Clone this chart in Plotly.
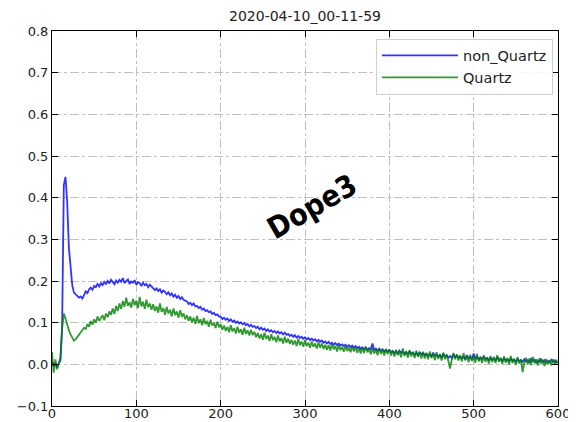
import plotly.graph_objects as go

# sampling positions
x_early = [0, 2, 4, 6, 8, 10, 12, 14, 16, 18, 20, 22, 24, 26, 28, 30, 32, 34, 36, 38]
x_late = list(range(40, 601, 2))
x_vals = x_early + x_late

non_quartz = [
    0.008, -0.005, 0.004, -0.008, 0.002, 0.015, 0.09, 0.43, 0.45, 0.39,
    0.28, 0.23, 0.19, 0.172, 0.168, 0.164, 0.16, 0.163, 0.158, 0.166,
    # 40-78
    0.175, 0.171, 0.18, 0.184, 0.179, 0.188, 0.185, 0.193, 0.187, 0.195,
    0.19, 0.198, 0.193, 0.2, 0.194, 0.203, 0.197, 0.192, 0.201, 0.196,
    # 80-118
    0.203, 0.198, 0.207, 0.195, 0.2, 0.204, 0.193, 0.199, 0.196, 0.202,
    0.191, 0.197, 0.195, 0.188, 0.196, 0.19, 0.193, 0.185, 0.191, 0.187,
    # 120-158
    0.184, 0.178, 0.182, 0.176, 0.18, 0.172, 0.177, 0.174, 0.168, 0.173,
    0.166, 0.17, 0.163, 0.167, 0.16, 0.164, 0.157, 0.161, 0.155, 0.152,
    # 160-198
    0.151, 0.145, 0.148, 0.142, 0.146, 0.139, 0.14, 0.135, 0.138, 0.131,
    0.134, 0.128, 0.13, 0.125, 0.127, 0.121, 0.124, 0.118, 0.12, 0.115,
    # 200-238
    0.114, 0.109, 0.112, 0.107, 0.11, 0.104, 0.108, 0.102, 0.105, 0.1,
    0.103, 0.098, 0.101, 0.096, 0.099, 0.094, 0.097, 0.091, 0.095, 0.09,
    # 240-278
    0.092, 0.087, 0.09, 0.084, 0.088, 0.083, 0.086, 0.08, 0.084, 0.079,
    0.082, 0.077, 0.08, 0.075, 0.079, 0.074, 0.077, 0.072, 0.076, 0.071,
    # 280-318
    0.073, 0.068, 0.071, 0.066, 0.07, 0.064, 0.068, 0.063, 0.066, 0.061,
    0.065, 0.06, 0.063, 0.058, 0.062, 0.057, 0.06, 0.055, 0.059, 0.054,
    # 320-358
    0.057, 0.052, 0.055, 0.05, 0.054, 0.049, 0.052, 0.047, 0.051, 0.046,
    0.05, 0.045, 0.048, 0.044, 0.047, 0.042, 0.046, 0.041, 0.045, 0.04,
    # 360-398
    0.044, 0.039, 0.042, 0.037, 0.041, 0.036, 0.04, 0.035, 0.039, 0.036,
    0.05, 0.034, 0.038, 0.033, 0.037, 0.032, 0.036, 0.031, 0.035, 0.03,
    # 400-438
    0.034, 0.029, 0.032, 0.027, 0.031, 0.026, 0.033, 0.028, 0.03, 0.025,
    0.029, 0.024, 0.031, 0.026, 0.028, 0.023, 0.027, 0.022, 0.029, 0.024,
    # 440-478
    0.027, 0.022, 0.025, 0.02, 0.024, 0.019, 0.028, 0.021, 0.023, 0.018,
    0.022, 0.017, 0.025, 0.019, 0.021, 0.016, 0.02, 0.015, 0.023, 0.017,
    # 480-518
    0.021, 0.016, 0.019, 0.014, 0.018, 0.013, 0.022, 0.015, 0.017, 0.012,
    0.026, 0.014, 0.018, 0.011, 0.016, 0.012, 0.019, 0.013, 0.015, 0.01,
    # 520-558
    0.016, 0.011, 0.014, 0.009, 0.018, 0.01, 0.013, 0.008, 0.015, 0.009,
    0.012, 0.007, 0.014, 0.009, 0.011, 0.006, 0.013, 0.008, 0.01, 0.006,
    # 560-600
    0.012, 0.007, 0.01, 0.005, 0.013, 0.008, 0.011, 0.004, 0.009, 0.006,
    0.012, 0.005, 0.01, 0.004, 0.008, 0.005, 0.011, 0.006, 0.009, 0.004, 0.007,
]

quartz = [
    0.03, -0.02, 0.012, -0.012, 0.002, 0.008, 0.085, 0.122, 0.11, 0.095,
    0.082, 0.072, 0.063, 0.057, 0.06, 0.066, 0.072, 0.079, 0.083, 0.088,
    # 40-78
    0.085, 0.097, 0.09, 0.104, 0.095, 0.108, 0.1, 0.115, 0.104, 0.112,
    0.118, 0.106, 0.122, 0.113, 0.127, 0.119, 0.134, 0.121, 0.14, 0.128,
    # 80-118
    0.146, 0.133, 0.152, 0.138, 0.16, 0.14, 0.149, 0.136, 0.157, 0.142,
    0.153, 0.135, 0.162, 0.139, 0.15, 0.133, 0.155, 0.137, 0.146, 0.131,
    # 120-158
    0.144, 0.128, 0.139, 0.124, 0.146, 0.126, 0.135, 0.119, 0.138, 0.122,
    0.131, 0.115, 0.134, 0.118, 0.127, 0.112, 0.13, 0.114, 0.122, 0.108,
    # 160-198
    0.118, 0.104, 0.115, 0.101, 0.112, 0.097, 0.116, 0.099, 0.108, 0.094,
    0.111, 0.096, 0.104, 0.09, 0.107, 0.093, 0.1, 0.087, 0.102, 0.089,
    # 200-238
    0.096, 0.083, 0.093, 0.08, 0.09, 0.077, 0.094, 0.079, 0.087, 0.074,
    0.09, 0.076, 0.084, 0.071, 0.088, 0.073, 0.082, 0.069, 0.083, 0.07,
    # 240-278
    0.078, 0.065, 0.075, 0.062, 0.072, 0.059, 0.076, 0.061, 0.069, 0.056,
    0.072, 0.058, 0.066, 0.053, 0.069, 0.055, 0.063, 0.05, 0.066, 0.052,
    # 280-318
    0.062, 0.049, 0.059, 0.047, 0.057, 0.044, 0.061, 0.046, 0.055, 0.042,
    0.058, 0.044, 0.052, 0.04, 0.055, 0.042, 0.05, 0.038, 0.053, 0.04,
    # 320-358
    0.05, 0.037, 0.047, 0.035, 0.046, 0.033, 0.049, 0.036, 0.044, 0.031,
    0.047, 0.034, 0.042, 0.03, 0.045, 0.032, 0.04, 0.029, 0.043, 0.031,
    # 360-398
    0.041, 0.028, 0.039, 0.026, 0.04, 0.027, 0.043, 0.029, 0.037, 0.024,
    0.04, 0.026, 0.036, 0.022, 0.039, 0.025, 0.035, 0.021, 0.037, 0.024,
    # 400-438
    0.036, 0.021, 0.033, 0.019, 0.035, 0.022, 0.031, 0.017, 0.038, 0.02,
    0.032, 0.016, 0.034, 0.019, 0.03, 0.015, 0.033, 0.018, 0.029, 0.014,
    # 440-478
    0.03, 0.014, 0.028, 0.012, 0.031, 0.015, 0.026, 0.01, 0.029, 0.013,
    0.025, 0.009, 0.028, 0.012, 0.024, 0.008, -0.01, 0.011, 0.027, 0.012,
    # 480-518
    0.024, 0.009, 0.022, 0.007, 0.027, 0.01, 0.02, 0.005, 0.023, 0.008,
    0.019, 0.004, 0.025, 0.007, 0.018, 0.003, 0.021, 0.006, 0.017, 0.002,
    # 520-558
    0.02, 0.005, 0.018, 0.003, 0.022, 0.006, 0.016, 0.001, 0.019, 0.004,
    0.015, 0.0, 0.02, 0.003, 0.014, -0.001, 0.017, 0.002, 0.012, -0.019,
    # 560-600
    0.004, 0.016, 0.001, 0.014, -0.002, 0.018, 0.003, 0.012, -0.003, 0.015,
    0.002, 0.011, -0.004, 0.013, 0.0, 0.01, -0.002, 0.012, 0.001, 0.009, 0.003,
]

y_ticks = [0.8, 0.7, 0.6, 0.5, 0.4, 0.3, 0.2, 0.1, 0.0, -0.1]
x_ticks = [0, 100, 200, 300, 400, 500, 600]

title_text = "2020-04-10_00-11-59"
watermark = "Dope3"

fig = go.Figure()
fig.add_trace(go.Scatter(x=x_vals, y=non_quartz, mode="lines", name="non_Quartz",
                         legendgroup="a",
                         line=dict(color="rgba(0,0,255,0.8)", width=1.8)))
fig.add_trace(go.Scatter(x=x_vals, y=quartz, mode="lines", name="Quartz",
                         legendgroup="b",
                         line=dict(color="rgba(0,128,0,0.8)", width=1.8)))

axis_common = dict(
    showline=True, linecolor="black", linewidth=1, mirror="ticks",
    ticks="inside", ticklen=6, tickcolor="black", automargin=False,
    showgrid=True, gridcolor="#c0c0c0", griddash="dashdot", gridwidth=1,
    zeroline=False, tickfont=dict(family="DejaVu Sans", size=13, color="#222"),
)

fig.update_xaxes(range=[0, 600], tickvals=x_ticks, ticklabelstandoff=-5, **axis_common)
fig.update_yaxes(range=[-0.1, 0.8], tickvals=y_ticks, tickformat=".1f", **axis_common)

fig.add_annotation(x=308, y=0.38, xref="x", yref="y", text=watermark, showarrow=False,
                   textangle=-30,
                   font=dict(family="DejaVu Sans Condensed", size=30, color="black",
                             weight="bold"))

# the page places the figure 8px in from the top-left corner
fig.update_layout(
    width=568, height=414,
    margin=dict(l=44, r=18, t=23, b=16),
    paper_bgcolor="white", plot_bgcolor="white",
    title=dict(text=title_text, x=0.5, xref="paper", xanchor="center", y=1, yref="container",
               yanchor="top", pad=dict(t=3),
               font=dict(family="DejaVu Sans", size=14, color="#222")),
    legend=dict(x=0.99, y=0.98, xanchor="right", yanchor="top",
                bordercolor="#d0d0d0", borderwidth=1, bgcolor="rgba(255,255,255,0.85)",
                itemwidth=76, tracegroupgap=0,
                font=dict(family="DejaVu Sans", size=14.5, color="#222")),
    showlegend=True,
)

fig.write_html("out.html")
